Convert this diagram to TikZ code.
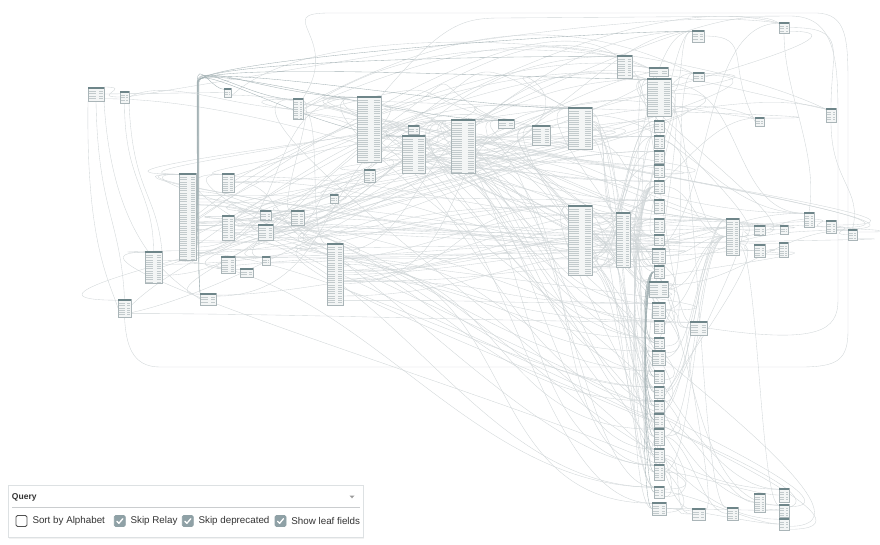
\documentclass[tikz,border=0pt]{standalone}
\usepackage{fontspec}
\newfontfamily\uifont{Liberation Sans}
\usetikzlibrary{calc}
\pgfdeclarelayer{background}
\pgfsetlayers{background,main}

\definecolor{edgec}{HTML}{D0D6D8}
\definecolor{edgedark}{HTML}{A3B1B4}
\definecolor{hdr}{HTML}{6E8589}
\definecolor{tbfill}{HTML}{F3F5F5}
\definecolor{tbline}{HTML}{AAB5B8}
\definecolor{rowc}{HTML}{C2CACC}
\definecolor{chk}{HTML}{8FA1A6}
\definecolor{txt}{HTML}{333333}
\definecolor{panelb}{HTML}{DDE1E3}

\tikzset{
  tbox/.style={draw=tbline, line width=0.5pt, fill=tbfill, inner sep=0pt, outer sep=0pt},
  tbrow/.style={draw=rowc, line width=0.6pt},
  edge/.style={draw=edgec, line width=0.35pt},
  bundle/.style={draw=edgedark, line width=0.35pt},
  cbox/.style={draw=#1, line width=0.8pt, rounded corners=1.5pt, minimum size=11pt, inner sep=0pt},
  lbl/.style={anchor=west, inner sep=0pt, text=txt, font=\uifont\fontsize{9.8}{12}\selectfont},
}

% a type box: name, left, top, width, height
\newcommand\tb[5]{%
  \node[tbox, minimum width=#4pt, minimum height=#5pt, anchor=north west] (#1) at (#2,#3) {};
  \fill[hdr] (#2,#3) rectangle ++(#4,2.4);
  \pgfmathsetmacro\tbra{#3+4.4}%
  \pgfmathsetmacro\tbrb{#3+6.6}%
  \pgfmathsetmacro\tbre{#3+#5-1.0}%
  \foreach \ry in {\tbra,\tbrb,...,\tbre}{%
    \draw[tbrow] ({#2+1.2},\ry) -- ++({0.42*#4},0);
    \draw[tbrow] ({#2+0.7*#4},\ry) -- ({#2+#4-1.2},\ry);
  }%
}

% field-to-type connector: source, target, row fraction, spread
\newcommand\link[4]{%
  \draw[edge] let \p1=($(n#1.north east)!#3!(n#1.south east)$),
    \p2=($(n#2.north west)+(0,1.2)$),
    \n1={min(140,max(18,0.42*abs(\x2-\x1)))*#4}
  in (\p1) .. controls +(\n1,0) and +(-\n1,0) .. (\p2);
}

\begin{document}
\begin{tikzpicture}[x=1pt,y=-1pt]
\useasboundingbox (0,0) rectangle (880,544);
\begin{pgfonlayer}{background}
\fill[white] (0,0) rectangle (880,544);
\end{pgfonlayer}

% ---- type boxes ----
\tb{n1}{88}{87}{16}{14}
\tb{n2}{120}{91}{9}{12}
\tb{n3}{224}{88}{7}{9}
\tb{n4}{293}{98}{10}{21}
\tb{n5}{357}{96}{24}{66}
\tb{n6}{179}{173}{17}{87}
\tb{n7}{222}{173}{12}{19}
\tb{n8}{364}{169}{11}{13}
\tb{n9}{330}{194}{8}{9}
\tb{n10}{222}{215}{12}{25}
\tb{n11}{260}{210}{11}{10}
\tb{n12}{258}{224}{15}{16}
\tb{n13}{291}{210}{13}{15}
\tb{n14}{327}{243}{16}{62}
\tb{n15}{145}{251}{17}{32}
\tb{n16}{221}{256}{14}{17}
\tb{n17}{262}{256}{8}{9}
\tb{n18}{240}{268}{13}{9}
\tb{n19}{200}{293}{16}{12}
\tb{n20}{118}{299}{13}{18}
\tb{n21}{408}{125}{11}{9}
\tb{n22}{402}{135}{23}{38}
\tb{n23}{451}{119}{24}{54}
\tb{n24}{498}{119}{16}{9}
\tb{n25}{532}{125}{18}{20}
\tb{n26}{568}{107}{24}{42}
\tb{n27}{568}{205}{24}{70}
\tb{n28}{616}{212}{14}{55}
\tb{n29}{617}{55}{15}{23}
\tb{n30}{649}{67}{19}{9}
\tb{n31}{647}{78}{24}{38}
\tb{n32}{692}{30}{12}{12}
\tb{n33}{693}{72}{11}{9}
\tb{n34}{779}{22}{10}{11}
\tb{n35}{755}{117}{9}{9}
\tb{n36}{826}{108}{10}{14}
\tb{n37}{654}{120}{10}{12}
\tb{n38}{654}{135}{10}{13}
\tb{n39}{654}{150}{10}{13}
\tb{n40}{654}{164}{10}{13}
\tb{n41}{654}{180}{10}{13}
\tb{n42}{654}{199}{10}{14}
\tb{n43}{654}{218}{10}{14}
\tb{n44}{654}{234}{10}{11}
\tb{n45}{652}{248}{13}{15}
\tb{n46}{654}{265}{10}{13}
\tb{n47}{649}{281}{19}{16}
\tb{n48}{652}{302}{13}{16}
\tb{n49}{654}{320}{10}{13}
\tb{n50}{654}{337}{10}{11}
\tb{n51}{652}{350}{13}{15}
\tb{n52}{654}{370}{10}{13}
\tb{n53}{654}{386}{10}{12}
\tb{n54}{654}{400}{10}{12}
\tb{n55}{654}{413}{10}{14}
\tb{n56}{654}{428}{10}{17}
\tb{n57}{654}{448}{10}{14}
\tb{n58}{654}{464}{10}{16}
\tb{n59}{654}{486}{10}{12}
\tb{n60}{652}{502}{14}{13}
\tb{n61}{726}{218}{13}{37}
\tb{n62}{754}{225}{11}{10}
\tb{n63}{780}{225}{8}{9}
\tb{n64}{754}{244}{11}{13}
\tb{n65}{779}{242}{9}{15}
\tb{n66}{804}{212}{10}{15}
\tb{n67}{826}{220}{10}{13}
\tb{n68}{848}{229}{9}{11}
\tb{n69}{690}{321}{17}{14}
\tb{n70}{692}{508}{13}{12}
\tb{n71}{727}{507}{11}{13}
\tb{n72}{754}{493}{11}{19}
\tb{n73}{779}{488}{10}{14}
\tb{n74}{779}{504}{10}{13}
\tb{n75}{779}{518}{10}{12}

% ---- connectors ----
\begin{pgfonlayer}{background}
\pgfmathsetseed{4711}
\pgfmathdeclarerandomlist{hubs}{{5}{5}{6}{6}{6}{14}{14}{14}{22}{23}{23}{26}{27}{27}{27}{28}{28}{31}{31}{61}{61}{15}{4}{12}{10}{47}{69}{25}{7}}
\pgfmathdeclarerandomlist{lefts}{{1}{2}{3}{4}{5}{6}{7}{15}{20}{22}{23}{5}{6}}
\pgfmathdeclarerandomlist{rights}{{29}{30}{31}{32}{33}{34}{35}{36}{26}{24}{25}{32}{34}}
\pgfmathdeclarerandomlist{feeders}{{27}{28}{14}{6}{23}{26}{27}{28}{22}{5}}

% hubs to anything
\foreach \k in {1,...,115}{
  \pgfmathrandomitem{\sr}{hubs}
  \pgfmathrandominteger{\tg}{3}{75}
  \pgfmathsetmacro{\fr}{0.12+0.85*rnd}
  \pgfmathsetmacro{\gn}{0.8+0.8*rnd}
  \link{\sr}{\tg}{\fr}{\gn}
}
% anything to hubs
\foreach \k in {1,...,60}{
  \pgfmathrandominteger{\sr}{1}{75}
  \pgfmathrandomitem{\tg}{hubs}
  \pgfmathsetmacro{\fr}{0.12+0.85*rnd}
  \pgfmathsetmacro{\gn}{0.8+0.8*rnd}
  \link{\sr}{\tg}{\fr}{\gn}
}
% feeders into the long column of small types
\foreach \i in {37,...,60}{
  \foreach \r in {1,2}{
    \pgfmathrandomitem{\sr}{feeders}
    \pgfmathsetmacro{\fr}{0.12+0.85*rnd}
    \pgfmathsetmacro{\gn}{0.9+0.6*rnd}
    \link{\sr}{\i}{\fr}{\gn}
  }
}
% arches over the top
\foreach \k in {1,...,24}{
  \pgfmathrandomitem{\sr}{lefts}
  \pgfmathrandomitem{\tg}{rights}
  \pgfmathsetmacro{\fr}{0.12+0.85*rnd}
  \pgfmathsetmacro{\ha}{80+120*rnd}
  \pgfmathsetmacro{\va}{30+80*rnd}
  \pgfmathsetmacro{\hb}{60+120*rnd}
  \pgfmathsetmacro{\vb}{10+60*rnd}
  \draw[edge] ($(n\sr.north east)!\fr!(n\sr.south east)$)
    .. controls +(\ha,-\va) and +(-\hb,-\vb) .. ($(n\tg.north west)+(0,1.2)$);
}
% bundle beside the lower column
\foreach \i in {50,...,60}{
  \draw[bundle] (n\i.west) .. controls +(-12,0) and +(-12,0) .. (n46.west);
}
\foreach \i in {46,48,...,60}{
  \draw[edge] (n\i.west) .. controls +(-26,0) and +(-26,0) .. (n41.west);
}
% column fields feeding the right-hand types
\foreach \i in {38,41,44,45,47,48,51,53,56,58}{
  \draw[edge] (n\i.east) .. controls +(30,0) and +(-30,0) .. (n61.west);
}
\foreach \a/\b in {60/75,60/74,59/75,58/73,57/70,56/71,55/72,60/70,47/69,48/69,61/62,61/64,62/63,64/65,66/67,67/68,61/66,43/62,45/64}{
  \draw[edge] (n\a.east) .. controls +(25,0) and +(-25,0) .. (n\b.west);
}
% bundle rising from the tall type on the left
\foreach \f/\g/\c/\d in {0.15/3/197.2/12,0.3/4/197.6/40,0.45/29/198.0/100,0.6/32/197.4/100,0.75/31/197.8/100,0.9/24/198.2/90,0.5/26/197.0/100}{
  \draw[bundle] ($(n6.north east)!\f!(n6.south east)$) .. controls +(2.5,0) and +(0,40) .. (\c,125)
    -- (\c,82) .. controls +(0,-22) and +(-\d,0) .. ($(n\g.north west)+(0,1.2)$);
}
\foreach \g/\c in {5/198.6,22/199.0}{
  \draw[bundle] (n19.north west) .. controls +(-1,-20) and +(0,40) .. (\c,240)
    -- (\c,82) .. controls +(0,-22) and +(-80,0) .. ($(n\g.north west)+(0,1.2)$);
}
% long drops on the far left
\draw[edge] (n1.south) .. controls +(2,110) and +(-4,-80) .. (n20.north);
\draw[edge] (n1.south east) .. controls +(8,140) and +(-30,-20) .. (n19.west);
\draw[edge] (n2.south) .. controls +(0,80) and +(0,-60) .. (n15.north);
\draw[edge] (n2.south east) .. controls +(4,90) and +(-6,-60) .. (n15.north east);
\draw[edge] (n1.south west) .. controls +(-2,140) and +(-10,-30) .. (n20.west);
\draw[edge] (n1.east) .. controls +(60,0) and +(-60,0) .. (n3.west);
\draw[edge] (n2.east) .. controls +(40,-20) and +(-60,0) .. (n4.west);
\draw[edge] (n1.north east) .. controls +(30,0) and +(-30,0) .. (n2.west);
% the long way round the right-hand side
\draw[edge] (n4.north east) .. controls +(40,-60) and +(-60,0) .. (330,13) -- (815,13)
  .. controls (848,13) and (848,40) .. (848,90) -- (848,330)
  .. controls (848,360) and (838,367) .. (800,367) -- (160,367)
  .. controls (132,367) and (126,345) .. (n20.south);
\draw[edge] (n5.north east) .. controls +(60,-70) and +(-40,0) .. (500,18) -- (790,16)
  .. controls (836,16) and (838,60) .. (838,120) -- (838,300) .. controls (838,330) and (820,345) .. (n69.east);
\draw[edge] (n34.east) .. controls +(60,0) and +(0,-60) .. (n36.north);
\draw[edge] (n32.east) .. controls +(50,0) and +(-30,-60) .. (n35.west);
\draw[edge] (n34.south) .. controls +(0,60) and +(10,-60) .. (n66.north);
\draw[edge] (n36.south) .. controls +(0,60) and +(10,-40) .. (n68.north);
\end{pgfonlayer}

% ---- query panel ----
\fill[black, opacity=0.05] (8.5,486.5) rectangle (364,539);
\node[draw=panelb, fill=white, line width=0.6pt, minimum width=355pt, minimum height=52pt,
  anchor=north west, inner sep=0pt] (panel) at (7.5,485) {};
\node[anchor=west, inner sep=0pt, text=txt, font=\uifont\bfseries\fontsize{8.5}{10}\selectfont] (qlabel) at (11.8,497) {Query};
\fill[gray!80] (349.5,495.5) -- (354.5,495.5) -- (352,498.3) -- cycle;
\draw[draw=panelb!80!gray, line width=0.7pt] (12,507.5) -- (360,507.5);

\node[cbox=txt!85] (c1) at (21.5,521) {};
\node[lbl] (l1) at (32.3,521) {Sort by Alphabet};
\node[cbox=chk, fill=chk] (c2) at (119.8,521) {};
\node[lbl] (l2) at (130.4,521) {Skip Relay};
\node[cbox=chk, fill=chk] (c3) at (187.8,521) {};
\node[lbl] (l3) at (198.4,521) {Skip deprecated};
\node[cbox=chk, fill=chk] (c4) at (280.5,521) {};
\node[lbl] (l4) at (291.2,521) {Show leaf fields};
\foreach \c in {c2,c3,c4}{
  \draw[white, line width=1.3pt, line cap=round, line join=round]
    ($(\c.center)+(-3,0.2)$) -- ($(\c.center)+(-0.9,2.3)$) -- ($(\c.center)+(3,-2.3)$);
}
\end{tikzpicture}
\end{document}
